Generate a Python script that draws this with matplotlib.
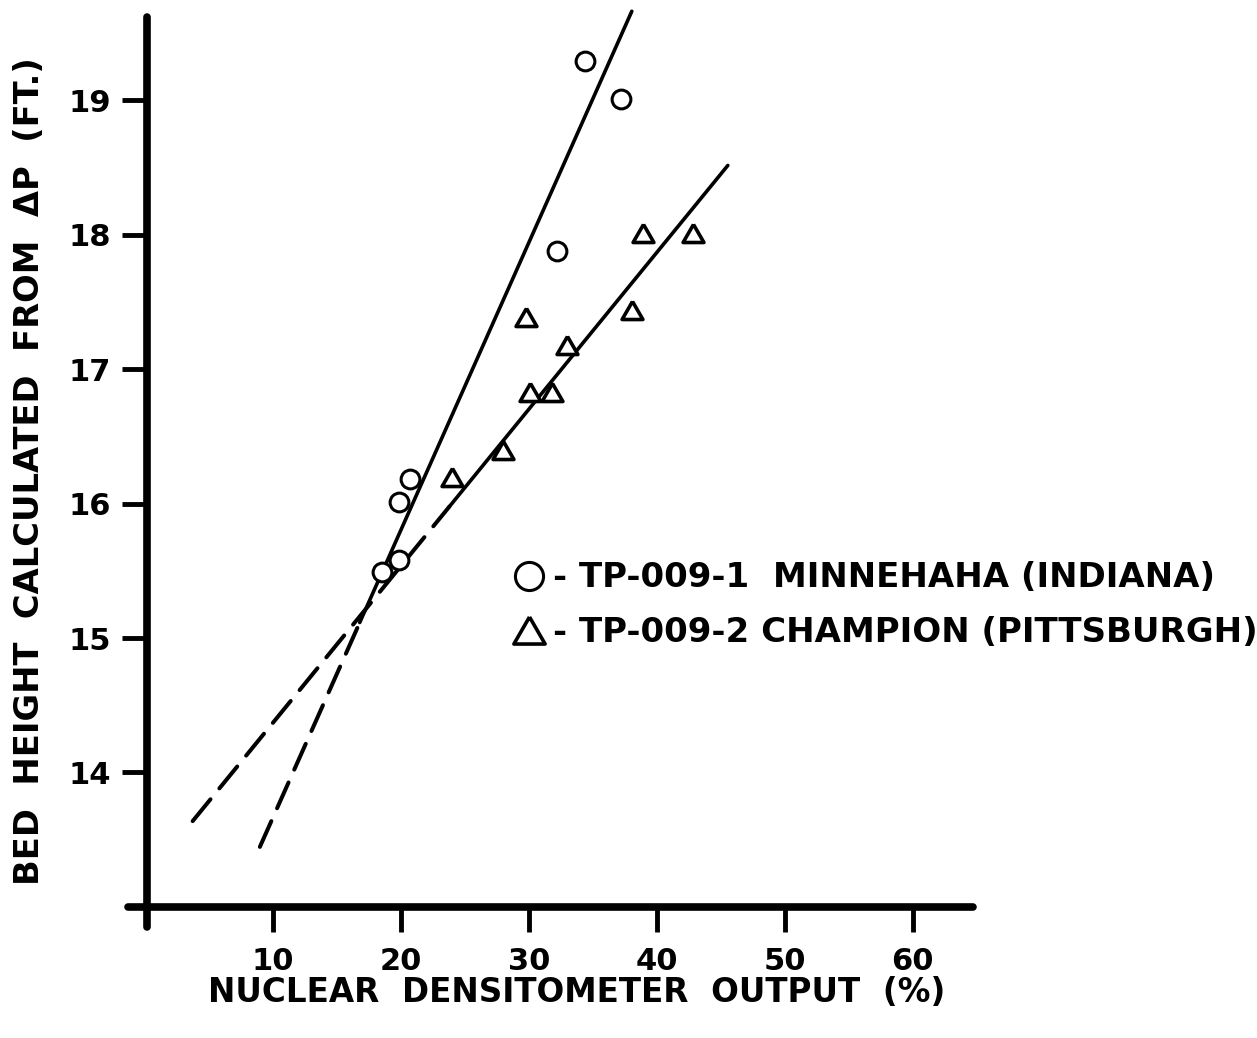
import numpy as np
import matplotlib
matplotlib.use("Agg")
import matplotlib.pyplot as plt

# ---- data ----
minne_x = [18.5, 19.9, 19.9, 20.7, 32.2, 34.4, 37.2]
minne_y = [15.49, 15.58, 16.01, 16.18, 17.88, 19.29, 19.01]
champ_x = [24.0, 28.0, 29.8, 30.1, 31.8, 33.0, 38.1, 38.9, 42.8]
champ_y = [16.20, 16.40, 17.39, 16.83, 16.83, 17.18, 17.44, 18.01, 18.01]

# hand-drawn fit lines: (slope, intercept); ranges of dashed and solid parts
minne_fit = (0.214, 11.52)
minne_dash = (9.0, 16.8)
minne_solid = (16.8, 38.05)
champ_fit = (0.1167, 13.20)
champ_dash = (3.75, 23.8)
champ_solid = (23.8, 45.55)

x_ticks = [10, 20, 30, 40, 50, 60]
y_ticks = [14, 15, 16, 17, 18, 19]
legend_labels = ["- TP-009-1  MINNEHAHA (INDIANA)",
                 "- TP-009-2 CHAMPION (PITTSBURGH)"]
x_label = "NUCLEAR  DENSITOMETER  OUTPUT  (%)"
y_label = "BED  HEIGHT  CALCULATED  FROM  \u0394P  (FT.)"

plt.rcParams["font.family"] = ["DejaVu Sans"]
plt.rcParams["font.weight"] = "bold"

W, H = 1257, 1038
fig = plt.figure(figsize=(W / 100, H / 100), dpi=100)
ax = fig.add_axes([128 / W, 1 - 927 / H, 845 / W, 910 / H])
ax.set_xlim(-1.3, 64.7)
ax.set_ylim(12.85, 19.62)

# equilateral triangle marker
tri = [(0, 0.433), (-0.5, -0.433), (0.5, -0.433), (0, 0.433)]

def fit_line(fit, rng, **kw):
    xs = np.linspace(rng[0], rng[1], 50)
    ax.plot(xs, fit[0] * xs + fit[1], color="black", clip_on=False,
            solid_capstyle="round", dash_capstyle="round", **kw)

fit_line(minne_fit, minne_solid, lw=2.6)
fit_line(minne_fit, minne_dash, lw=2.9, linestyle=(0, (7, 3.5)))
fit_line(champ_fit, champ_solid, lw=2.6)
fit_line(champ_fit, champ_dash, lw=2.9, linestyle=(0, (7, 3.5)))

h1, = ax.plot(minne_x, minne_y, linestyle="none", marker="o", markersize=13.5,
              markerfacecolor="white", markeredgecolor="black",
              markeredgewidth=2.2, zorder=3)
h2, = ax.plot(champ_x, champ_y, linestyle="none", marker=tri, markersize=15,
              markerfacecolor="white", markeredgecolor="black",
              markeredgewidth=2.6, zorder=3)

# axes styling
for s in ["top", "right"]:
    ax.spines[s].set_visible(False)
ax.spines["left"].set_position(("data", 0.2))
ax.spines["bottom"].set_position(("data", 13))
for s in ["left", "bottom"]:
    ax.spines[s].set_linewidth(5.5)
    ax.spines[s].set_capstyle("round")

ax.set_xticks(x_ticks)
ax.set_yticks(y_ticks)
ax.tick_params(direction="out", length=18, width=3.5, labelsize=22)
ax.tick_params(axis="x", pad=11)
ax.tick_params(axis="y", pad=8)
for lab in ax.get_xticklabels() + ax.get_yticklabels():
    lab.set_fontweight("bold")

ax.set_xlabel(x_label, fontsize=23.5, fontweight="bold")
ax.xaxis.set_label_coords((577 - 128) / 845, (927 - 993) / 910)
ax.xaxis.label.set_verticalalignment("center")
ax.set_ylabel(y_label, fontsize=24.3, fontweight="bold")
ax.yaxis.set_label_coords((30 - 128) / 845, (927 - 471) / 910)
ax.yaxis.label.set_verticalalignment("center")

leg = ax.legend([h1, h2], legend_labels, loc="center left",
                bbox_to_anchor=(512 / W, 1 - 605 / H),
                bbox_transform=fig.transFigure, frameon=False,
                markerscale=1.5, handlelength=1.0,
                handletextpad=0.2, borderpad=0, borderaxespad=0,
                labelspacing=0.62, prop={"weight": "bold", "size": 24.5})

fig.savefig("out.png", dpi=100)
